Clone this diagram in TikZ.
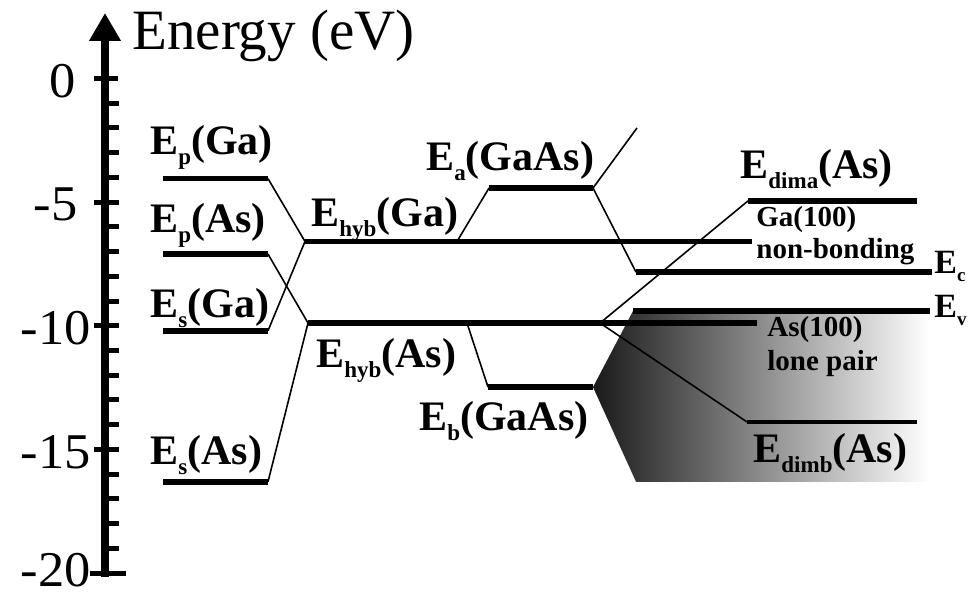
\documentclass[tikz,border=0pt]{standalone}
\usepackage{fontspec}
\setmainfont{Liberation Serif}
\usetikzlibrary{arrows.meta}
\newcommand{\sub}[1]{\raisebox{-5pt}{\fontsize{11.5}{11.5}\selectfont #1}}
\newcommand{\wide}[1]{\scalebox{1.05}[1]{#1}}
\tikzset{
  lvl/.style    ={line width=2.8pt},
  thinlvl/.style={line width=1.6pt},
  lnk/.style    ={line width=0.8pt},
  axis/.style   ={line width=4pt, -{Triangle[width=15pt,length=14pt]}},
  tck/.style    ={line width=2.5pt},
  lab/.style    ={font=\fontsize{21}{21}\selectfont\bfseries, anchor=base west, inner sep=0pt},
  slab/.style   ={font=\fontsize{14.5}{16}\selectfont\bfseries, anchor=base west, inner sep=0pt},
  num/.style    ={font=\fontsize{25}{25}\selectfont, anchor=east, inner sep=0pt},
}

\begin{document}
\begin{tikzpicture}[x=0.5pt, y=12.3625pt]
\useasboundingbox (0,-20.97) rectangle (977,3.175);

% energy axis
\coordinate (ax0) at (105,-20.16);
\coordinate (ax1) at (105,2.65);
\draw[axis] (ax0) -- (ax1);
\foreach \e in {-1,...,-19} \draw[tck] (105,\e) -- (119,\e);
\foreach \e in {0,-5,-10,-15} \draw[tck] (94,\e) -- (118,\e);
\draw[tck] (90,-20) -- (126,-20);
\foreach \e/\xx/\yy in {0/76/-0.1,-5/78/-5.1,-10/91/-10.1,-15/91/-15.1,-20/91/-19.9}
  \node[num] (n\e) at (\xx,\yy) {\wide{\e}};
\node[font=\fontsize{28.5}{28.5}\selectfont, anchor=base west, inner sep=0pt] (ylab) at (132,1.19) {Energy (eV)};

% level end points
\coordinate (pGaL) at (163,-4.05);  \coordinate (pGaR) at (268,-4.05);
\coordinate (pAsL) at (163,-7.10);  \coordinate (pAsR) at (268,-7.10);
\coordinate (sGaL) at (163,-10.2);  \coordinate (sGaR) at (268,-10.2);
\coordinate (sAsL) at (163,-16.31); \coordinate (sAsR) at (268,-16.31);
\coordinate (hGaL) at (305,-6.59);  \coordinate (hGaR) at (752,-6.59);
\coordinate (hAsL) at (308,-9.89);  \coordinate (hAsR) at (757,-9.89);
\coordinate (eaL) at (489,-4.43);   \coordinate (eaR) at (593,-4.43);
\coordinate (ebL) at (488,-12.48);  \coordinate (ebR) at (593,-12.48);
\coordinate (ecL) at (636,-7.83);   \coordinate (ecR) at (932,-7.83);
\coordinate (evL) at (633,-9.40);   \coordinate (evR) at (930,-9.40);
\coordinate (daL) at (748,-4.95);   \coordinate (daR) at (917,-4.95);
\coordinate (dbL) at (747,-13.89);  \coordinate (dbR) at (917,-13.89);
\coordinate (hGaA) at (457,-6.59);
\coordinate (hAsB) at (467,-9.89);
\coordinate (hAsD) at (600,-9.89);
\coordinate (eaUp) at (637,-2.0);
\coordinate (vbBR) at (930,-16.31); \coordinate (vbBL) at (636,-16.31);

% valence band
\shade[left color=black!90, right color=white] (ebR) -- (evL) -- (evR) -- (vbBR) -- (vbBL) -- cycle;

% levels
\draw[lvl] (pGaL) -- (pGaR);
\draw[lvl] (pAsL) -- (pAsR);
\draw[lvl] (sGaL) -- (sGaR);
\draw[lvl] (sAsL) -- (sAsR);
\draw[lvl] (hGaL) -- (hGaR);
\draw[lvl] (hAsL) -- (hAsR);
\draw[lvl] (eaL) -- (eaR);
\draw[lvl] (ebL) -- (ebR);
\draw[lvl] (ecL) -- (ecR);
\draw[lvl] (evL) -- (evR);
\draw[lvl] (daL) -- (daR);
\draw[thinlvl] (dbL) -- (dbR);

% mixing lines
\draw[lnk] (pGaR) -- (hGaL); \draw[lnk] (sGaR) -- (hGaL);
\draw[lnk] (pAsR) -- (hAsL); \draw[lnk] (sAsR) -- (hAsL);
\draw[lnk] (hGaA) -- (eaL); \draw[lnk] (hAsB) -- (ebL);
\draw[lnk] (eaR) -- (eaUp); \draw[lnk] (eaR) -- (ecL);
\draw[lnk] (hAsD) -- (daL); \draw[lnk] (hAsD) -- (dbL);

% labels
\node[lab] (lpGa) at (150,-3.09)  {E\sub{p}(Ga)};
\node[lab] (lpAs) at (150,-6.21)  {E\sub{p}(As)};
\node[lab] (lsGa) at (150,-9.65)  {E\sub{s}(Ga)};
\node[lab] (lsAs) at (150,-15.63) {E\sub{s}(As)};
\node[lab] (lhGa) at (311,-6.0)   {E\sub{hyb}(Ga)};
\node[lab] (lhAs) at (316,-11.67) {E\sub{hyb}(As)};
\node[lab] (lea)  at (426,-3.74)  {E\sub{a}(GaAs)};
\node[lab] (leb)  at (419,-14.22) {E\sub{b}(GaAs)};
\node[lab] (lda)  at (740,-4.03)  {E\sub{dima}(As)};
\node[lab] (ldb)  at (753,-15.55) {E\sub{dimb}(As)};
\node[slab] (lnb1) at (756,-6.0)   {Ga(100)};
\node[slab] (lnb2) at (756,-7.26)  {non-bonding};
\node[slab] (llp1) at (767,-10.45) {As(100)};
\node[slab] (llp2) at (767,-11.79) {lone pair};
\node[lab, font=\fontsize{17}{17}\selectfont\bfseries] (lec) at (934,-7.87) {E\raisebox{-4pt}{\fontsize{9.5}{9.5}\selectfont c}};
\node[lab, font=\fontsize{17}{17}\selectfont\bfseries] (lev) at (934,-9.65) {E\raisebox{-4pt}{\fontsize{9.5}{9.5}\selectfont v}};
\end{tikzpicture}
\end{document}
